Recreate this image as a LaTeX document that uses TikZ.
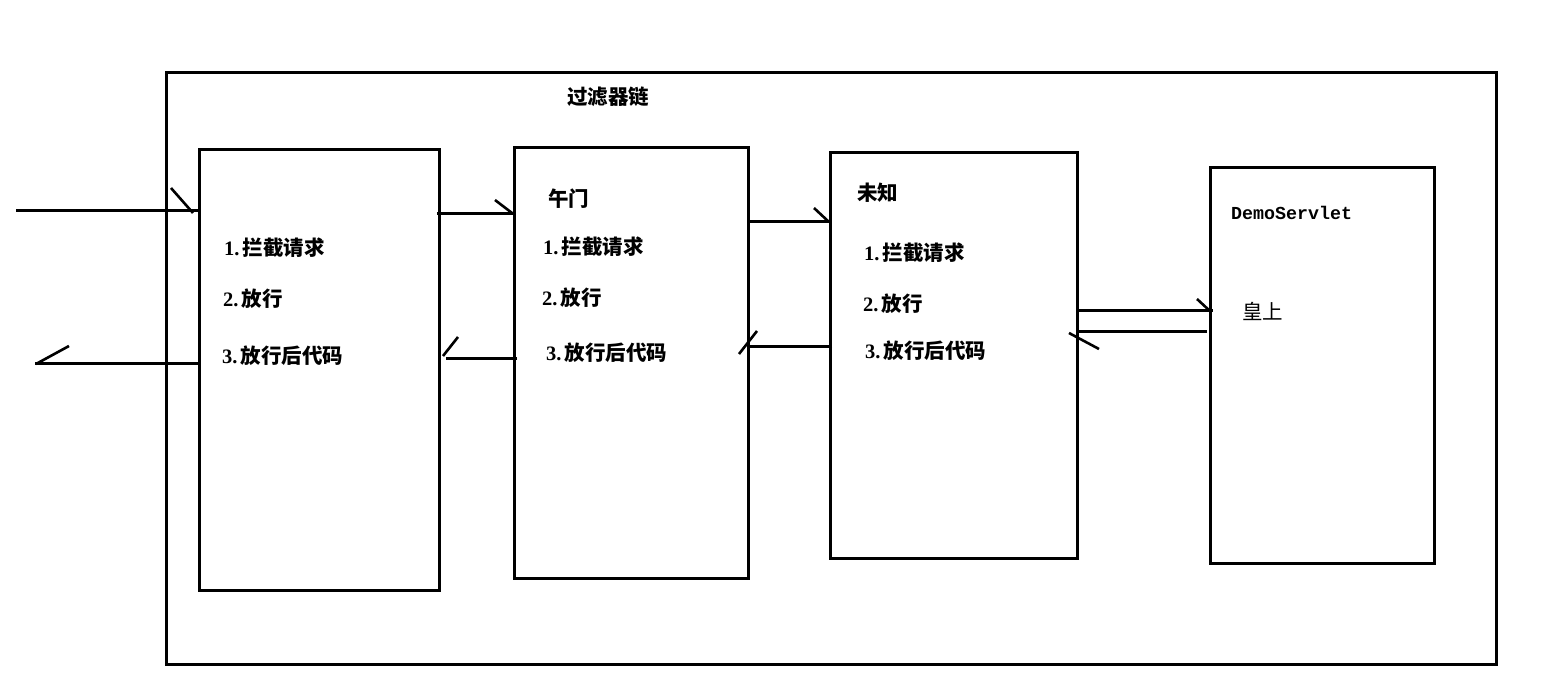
\documentclass[tikz,border=0pt]{standalone}
\usepackage{fontspec}
\setmainfont{Liberation Serif}
\newfontfamily\cjk{Noto Sans CJK SC}
\newfontfamily\monof{Liberation Mono}
\newcommand{\numlbl}[2]{{\bfseries #1}\kern3pt{\cjk\bfseries #2}}
\begin{document}
\begin{tikzpicture}[x=1pt,y=-1pt,
  box/.style={draw,line width=3pt,inner sep=0pt},
  txt/.style={anchor=west,inner sep=0pt,font=\fontsize{20.5}{20.5}\selectfont},
  wire/.style={line width=3pt},
  tip/.style={line width=2.6pt}]
\useasboundingbox (0,0) rectangle (1564,684);
% boxes
\node[box,minimum width=1330pt,minimum height=592pt,anchor=north west] (outer) at (165,71) {};
\node[box,minimum width=240pt,minimum height=441pt,anchor=north west] (b1) at (198,148) {};
\node[box,minimum width=234pt,minimum height=431pt,anchor=north west] (b2) at (513,146) {};
\node[box,minimum width=247pt,minimum height=406pt,anchor=north west] (b3) at (829,151) {};
\node[box,minimum width=224pt,minimum height=396pt,anchor=north west] (b4) at (1209,166) {};
% texts
\node[txt] (title) at (567,97) {\cjk\bfseries 过滤器链};
\node[txt] (a1) at (224,248) {\numlbl{1.}{拦截请求}};
\node[txt] (a2) at (223,299) {\numlbl{2.}{放行}};
\node[txt] (a3) at (222,356) {\numlbl{3.}{放行后代码}};
\node[txt] (n2) at (548,199) {\cjk\bfseries 午门};
\node[txt] (c1) at (543,247) {\numlbl{1.}{拦截请求}};
\node[txt] (c2) at (542,298) {\numlbl{2.}{放行}};
\node[txt] (c3) at (546,353) {\numlbl{3.}{放行后代码}};
\node[txt] (n3) at (857,193) {\cjk\bfseries 未知};
\node[txt] (d1) at (864,253) {\numlbl{1.}{拦截请求}};
\node[txt] (d2) at (863,304) {\numlbl{2.}{放行}};
\node[txt] (d3) at (865,351) {\numlbl{3.}{放行后代码}};
\node[txt,font=\monof\bfseries\fontsize{18.3}{18.3}\selectfont] (ds) at (1231,213) {DemoServlet};
\node[txt] (hs) at (1242,311) {\cjk 皇上};
% free ends
\coordinate (inS) at (16,211);
\coordinate (outE) at (35,364);
% connectors
\draw[wire] (inS) -- (b1.west |- inS);
\draw[tip] (171,188) -- (193,213);
\draw[wire] (b1.west |- outE) -- (outE);
\draw[tip] (36,364) -- (69,346);
\draw[wire] ([xshift=-4pt]b1.east |- 0,214) -- (b2.west |- 0,214);
\draw[tip] (495,200) -- (512,213);
\draw[wire] ([xshift=4pt]b2.west |- 0,359) -- ([xshift=5pt]b1.east |- 0,359);
\draw[tip] (443,356) -- (458,337);
\draw[wire] (b2.east |- 0,222) -- (b3.west |- 0,222);
\draw[tip] (814,208) -- (829,222);
\draw[wire] ([xshift=3pt]b3.west |- 0,347) -- (b2.east |- 0,347);
\draw[tip] (739,354) -- (757,331);
\draw[wire] (b3.east |- 0,311) -- ([xshift=4pt]b4.west |- 0,311);
\draw[tip] (1197,299) -- (1211,312);
\draw[wire] ([xshift=-2pt]b4.west |- 0,332) -- (b3.east |- 0,332);
\draw[tip] (1069,333) -- (1099,349);
\end{tikzpicture}
\end{document}
